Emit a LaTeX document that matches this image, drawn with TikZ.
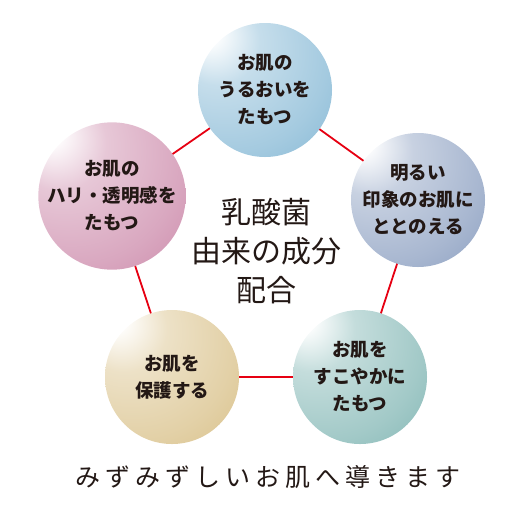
\documentclass[tikz,border=0pt]{standalone}
\usepackage{fontspec}
\setmainfont{Noto Sans CJK JP}
\usetikzlibrary{backgrounds}
\definecolor{inktxt}{HTML}{231815}
\definecolor{linered}{HTML}{E60012}
\definecolor{skyblue}{HTML}{5A9FC6}
\definecolor{slateblue}{HTML}{617CAA}
\definecolor{rosepink}{HTML}{BA608C}
\definecolor{cream}{HTML}{CBAA5E}
\definecolor{seagreen}{HTML}{569D9A}
\colorlet{ballcol}{skyblue}
\pgfdeclareradialshading[ballcol]{sphere}{\pgfpoint{-22bp}{22bp}}{%
  color(0bp)=(white); color(3bp)=(white); color(16bp)=(ballcol!35!white);
  color(36bp)=(ballcol!55!white); color(56bp)=(ballcol!80!white); color(70bp)=(ballcol);
  color(85bp)=(ballcol!85!black)}

\begin{document}
\begin{tikzpicture}[x=1pt, y=-1pt,
  sph/.style={circle, minimum size=134pt, inner sep=0pt, align=center,
              text=inktxt, font=\fontsize{18.5}{27}\selectfont\bfseries,
              /utils/exec={\colorlet{ballcol}{#1}}, shade, shading=sphere},
  link/.style={draw=linered, line width=1.8pt},
]
\useasboundingbox (0,0) rectangle (518,515);

\node[sph=skyblue]   (uru)  at (265,90)  {お肌の\\うるおいを\\たもつ};
\node[sph=slateblue] (aka)  at (418,200) {明るい\\印象のお肌に\\ととのえる};
\node[sph=seagreen]  (suko) at (360,377) {お肌を\\すこやかに\\たもつ};
\node[sph=cream]     (hogo) at (172,377) {お肌を\\保護する};
\node[sph=rosepink]  (hari) at (112,196) {お肌の\\ハリ・透明感を\\たもつ};

\node[text=inktxt, align=center, font=\fontsize{30}{39}\selectfont] (core) at (266,251)
  {乳酸菌\\由来の成分\\配合};

\node[text=inktxt, font=\fontsize{25}{25}\selectfont\addfontfeature{LetterSpace=20}] (lead) at (268,477)
  {みずみずしいお肌へ導きます};

\begin{scope}[on background layer]
  \draw[link] (uru.center) -- (aka.center) -- (suko.center) -- (hogo.center)
    -- (hari.center) -- (uru.center);
\end{scope}
\end{tikzpicture}
\end{document}
